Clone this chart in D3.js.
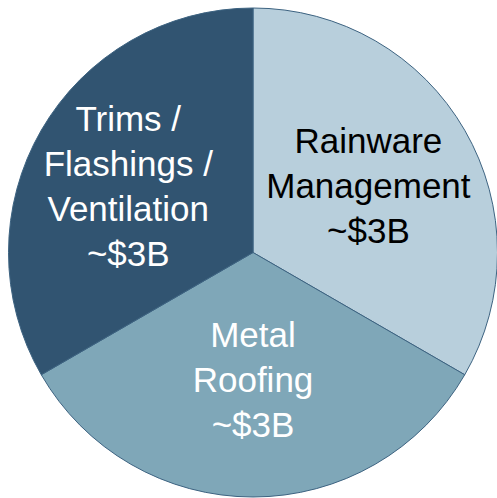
<!DOCTYPE html>
<html>
<head>
<meta charset="utf-8">
<script src="https://cdn.jsdelivr.net/npm/d3@7"></script>
<style>
  html, body { margin: 0; padding: 0; background: #ffffff; }
  svg { display: block; }
</style>
</head>
<body>
<svg id="chart" width="497" height="498"></svg>
<script>
// Data
const categories = ["Rainware Management", "Metal Roofing", "Trims / Flashings / Ventilation"];
const labelLines = [["Rainware", "Management", "~$3B"], ["Metal", "Roofing", "~$3B"], ["Trims /", "Flashings /", "Ventilation", "~$3B"]];
const values = [3, 3, 3];

const colors = ["#b8cfdc", "#7fa7b8", "#315471"];
const textColors = ["#000000", "#ffffff", "#ffffff"];

const svg = d3.select("#chart");
const cx = 253, cy = 252.5, R = 244.5;
const g = svg.append("g").attr("transform", `translate(${cx},${cy})`);

const pie = d3.pie().value(d => d).sort(null);
const arcs = pie(values);
const arc = d3.arc().innerRadius(0).outerRadius(R);

g.selectAll("path.slice")
  .data(arcs)
  .enter().append("path")
  .attr("class", "slice")
  .attr("d", arc)
  .attr("fill", (d, i) => colors[i])
  .attr("stroke", "#3d6381")
  .attr("stroke-width", 1);

// label placement (fraction of R, plus small nudges) per slice
const labelR = [0.545, 0.52, 0.575];
const nudge = [[0, 0], [0, 0], [-3, 4.5]];
const fontSize = 35, lineH = 45;

arcs.forEach((d, i) => {
  const a = (d.startAngle + d.endAngle) / 2;
  const r = R * labelR[i];
  const x = Math.sin(a) * r + nudge[i][0];
  const y = -Math.cos(a) * r + nudge[i][1];
  const lines = labelLines[i];
  const n = lines.length;
  const t = g.append("text")
    .attr("text-anchor", "middle")
    .attr("font-family", "'Liberation Sans', Arial, sans-serif")
    .attr("font-size", fontSize)
    .attr("fill", textColors[i]);
  lines.forEach((ln, k) => {
    t.append("tspan")
      .attr("x", x)
      .attr("y", y + (k - (n - 1) / 2) * lineH + fontSize * 0.35)
      .text(ln);
  });
});
</script>
</body>
</html>
